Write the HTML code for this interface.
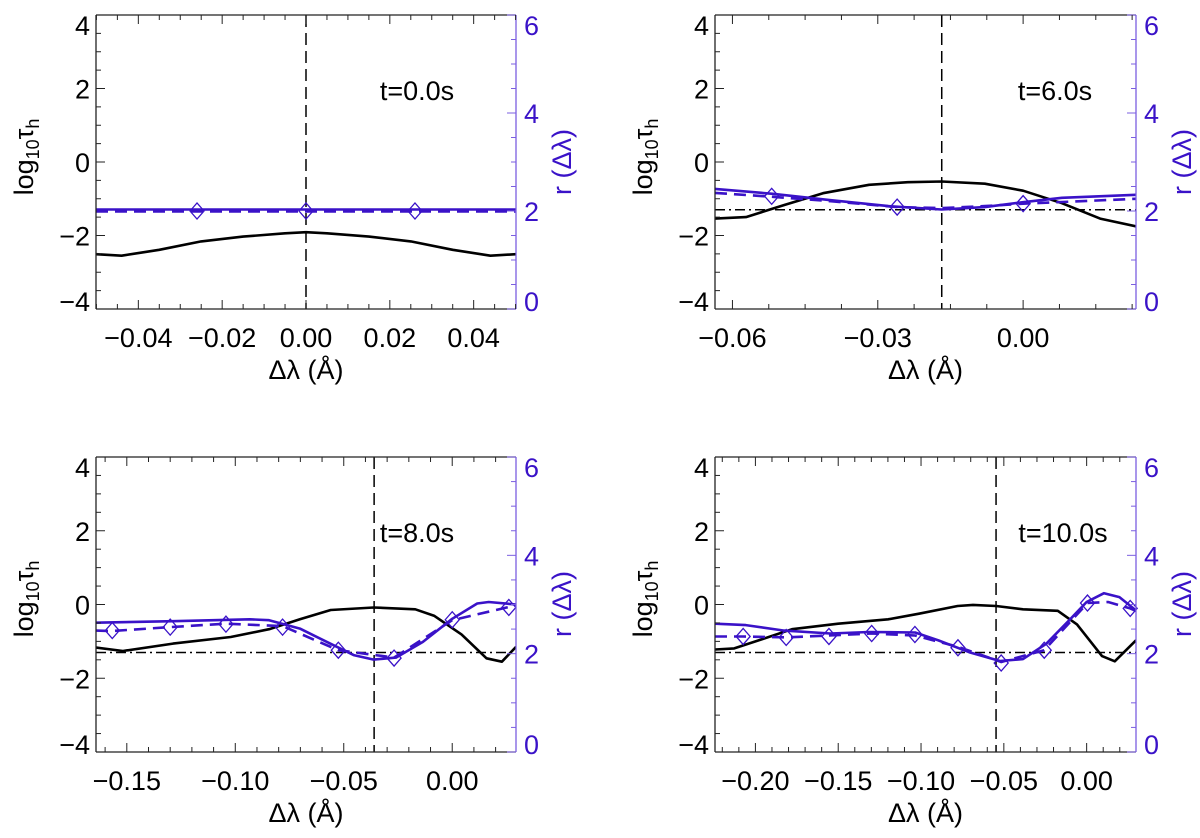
<!DOCTYPE html>
<html><head><meta charset="utf-8">
<style>
html,body{margin:0;padding:0;background:#fff;}
svg{display:block;font-family:"Liberation Sans",Arial,sans-serif;}
</style></head>
<body>
<svg id="fig" width="1200" height="838" viewBox="0 0 1200 838"></svg>
<script>
// ---------- data ----------
const p1_black_x=[-0.0501,-0.044,-0.035,-0.025,-0.015,-0.005,0,0.005,0.015,0.025,0.035,0.044,0.0501];
const p1_black_y=[-2.51,-2.55,-2.39,-2.16,-2.03,-1.94,-1.91,-1.94,-2.03,-2.16,-2.39,-2.55,-2.51];
const p1_rsol_x=[-0.0501,0.0501];
const p1_rsol_y=[2.03,2.03];
const p1_rdash_x=[-0.0501,0.0501];
const p1_rdash_y=[1.99,1.99];
const p1_diam_x=[-0.026,0,0.026];
const p1_diam_y=[2.0,2.0,2.0];

const p2_black_x=[-0.0636,-0.0572,-0.0493,-0.0413,-0.0318,-0.0238,-0.0168,-0.0079,0.0,0.008,0.0159,0.0233];
const p2_black_y=[-1.54,-1.50,-1.17,-0.85,-0.62,-0.55,-0.53,-0.59,-0.78,-1.12,-1.54,-1.75];
const p2_rsol_x=[-0.0636,-0.0517,-0.0397,-0.0278,-0.0168,-0.0079,0.0,0.008,0.0233];
const p2_rsol_y=[2.45,2.35,2.22,2.10,2.03,2.08,2.18,2.27,2.33];
const p2_rdash_x=[-0.0636,-0.0517,-0.0397,-0.026,-0.0168,-0.0079,0.0,0.0233];
const p2_rdash_y=[2.37,2.29,2.20,2.08,2.06,2.10,2.15,2.25];
const p2_diam_x=[-0.0519,-0.026,0.0];
const p2_diam_y=[2.30,2.08,2.15];

const p3_black_x=[-0.1642,-0.1518,-0.1287,-0.1021,-0.0844,-0.0702,-0.056,-0.0362,-0.017,-0.0082,0.0043,0.0158,0.0229,0.0294];
const p3_black_y=[-1.17,-1.26,-1.06,-0.88,-0.67,-0.40,-0.15,-0.08,-0.13,-0.31,-0.81,-1.46,-1.55,-1.15];
const p3_rsol_x=[-0.1642,-0.1287,-0.0933,-0.0844,-0.0702,-0.056,-0.0454,-0.0362,-0.0259,-0.0135,0.0,0.0115,0.0168,0.0294];
const p3_rsol_y=[2.63,2.66,2.70,2.68,2.51,2.20,1.97,1.88,1.92,2.24,2.71,3.02,3.05,3.0];
const p3_rdash_x=[-0.1642,-0.1567,-0.13,-0.1043,-0.0782,-0.0525,-0.0268,0.0,0.0261,0.0294];
const p3_rdash_y=[2.47,2.46,2.54,2.61,2.56,2.07,1.92,2.68,2.95,2.98];
const p3_diam_x=[-0.1567,-0.13,-0.1043,-0.0782,-0.0525,-0.0268,0.0,0.0261];
const p3_diam_y=[2.47,2.54,2.60,2.54,2.07,1.91,2.69,2.94];

const p4_black_x=[-0.2244,-0.2128,-0.1965,-0.1779,-0.15,-0.1198,-0.1012,-0.0779,-0.0686,-0.0547,-0.0384,-0.0174,-0.0058,0.0093,0.017,0.0298];
const p4_black_y=[-1.22,-1.19,-0.95,-0.67,-0.52,-0.40,-0.25,-0.04,-0.01,-0.04,-0.13,-0.17,-0.54,-1.40,-1.54,-0.97];
const p4_rsol_x=[-0.2244,-0.2058,-0.1826,-0.1547,-0.1314,-0.1035,-0.0895,-0.0709,-0.0523,-0.0384,-0.0244,-0.0105,0.0,0.0105,0.0198,0.0298];
const p4_rsol_y=[2.61,2.58,2.47,2.41,2.44,2.43,2.27,2.03,1.85,1.89,2.20,2.68,3.05,3.23,3.15,2.88];
const p4_rdash_x=[-0.2244,-0.2074,-0.1814,-0.1556,-0.1298,-0.1037,-0.0777,-0.0516,-0.0256,0.0005,0.0130,0.0263,0.0298];
const p4_rdash_y=[2.35,2.35,2.33,2.37,2.41,2.37,2.14,1.83,2.07,3.03,3.05,2.92,2.87];
const p4_diam_x=[-0.2074,-0.1814,-0.1556,-0.1298,-0.1037,-0.0777,-0.0516,-0.0256,0.0005,0.0263];
const p4_diam_y=[2.35,2.33,2.35,2.41,2.39,2.12,1.81,2.07,3.03,2.92];

const thresholds=[-1.3,-1.3,-1.3,-1.3];
const lineCenters=[0.0,-0.0168,-0.036,-0.0547];
const timeLabels=["t=0.0s","t=6.0s","t=8.0s","t=10.0s"];
const xTicks1=[-0.04,-0.02,0.00,0.02,0.04];
const xTickLabels1=["\u22120.04","\u22120.02","0.00","0.02","0.04"];
const xTicks2=[-0.06,-0.03,0.00];
const xTickLabels2=["\u22120.06","\u22120.03","0.00"];
const xTicks3=[-0.15,-0.10,-0.05,0.00];
const xTickLabels3=["\u22120.15","\u22120.10","\u22120.05","0.00"];
const xTicks4=[-0.20,-0.15,-0.10,-0.05,0.00];
const xTickLabels4=["\u22120.20","\u22120.15","\u22120.10","\u22120.05","0.00"];
const yTicks=[-4,-2,0,2,4];
const yTickLabels=["\u22124","\u22122","0","2","4"];
const rTicks=[0,2,4,6];
const rTickLabels=["0","2","4","6"];

// ---------- layout ----------
const PUR="#3a12c8", PURAX="#7b5fe0";
const FS=27;
const panels=[
 {x0:96,x1:516,y0:15,y1:309,xmin:-0.0501,xmax:0.0501,minor:0.005,xt:xTicks1,xl:xTickLabels1,
  bx:p1_black_x,by:p1_black_y,sx:p1_rsol_x,sy:p1_rsol_y,dx:p1_rdash_x,dy:p1_rdash_y,mx:p1_diam_x,my:p1_diam_y,tx:417},
 {x0:715,x1:1136,y0:15,y1:309,xmin:-0.0636,xmax:0.0233,minor:0.0075,xt:xTicks2,xl:xTickLabels2,
  bx:p2_black_x,by:p2_black_y,sx:p2_rsol_x,sy:p2_rsol_y,dx:p2_rdash_x,dy:p2_rdash_y,mx:p2_diam_x,my:p2_diam_y,tx:1055},
 {x0:96,x1:516,y0:457,y1:752,xmin:-0.1642,xmax:0.0294,minor:0.01,xt:xTicks3,xl:xTickLabels3,
  bx:p3_black_x,by:p3_black_y,sx:p3_rsol_x,sy:p3_rsol_y,dx:p3_rdash_x,dy:p3_rdash_y,mx:p3_diam_x,my:p3_diam_y,tx:417},
 {x0:715,x1:1136,y0:457,y1:752,xmin:-0.2244,xmax:0.0298,minor:0.01,xt:xTicks4,xl:xTickLabels4,
  bx:p4_black_x,by:p4_black_y,sx:p4_rsol_x,sy:p4_rsol_y,dx:p4_rdash_x,dy:p4_rdash_y,mx:p4_diam_x,my:p4_diam_y,tx:1063}
];
const NS="http://www.w3.org/2000/svg";
const svg=document.getElementById('fig');
function mk(tag,attrs,parent){const e=document.createElementNS(NS,tag);for(const k in attrs)e.setAttribute(k,attrs[k]);(parent||svg).appendChild(e);return e;}

panels.forEach((p,i)=>{
  const g=mk('g',{});
  
  
  const X=v=>p.x0+(v-p.xmin)/(p.xmax-p.xmin)*(p.x1-p.x0);
  const Y=v=>p.y1-(v+4)/8*(p.y1-p.y0);
  const R=v=>p.y1-v/6*(p.y1-p.y0);
  const path=(xs,ys,f)=>xs.map((x,j)=>(j?'L':'M')+X(x).toFixed(1)+' '+f(ys[j]).toFixed(1)).join(' ');
  const cp=mk('clipPath',{id:'c'+i},g);mk('rect',{x:p.x0,y:p.y0,width:p.x1-p.x0,height:p.y1-p.y0},cp);
  const pl=mk('g',{'clip-path':'url(#c'+i+')'},g);
  const th=mk('line',{x1:p.x0,x2:p.x1,y1:Y(thresholds[i]),y2:Y(thresholds[i]),stroke:'#000','stroke-width':1.5,'stroke-dasharray':'10 4 2 4'},pl);
  
  
  const vl=mk('line',{x1:X(lineCenters[i]),x2:X(lineCenters[i]),y1:p.y0,y2:p.y1,stroke:'#000','stroke-width':1.5,'stroke-dasharray':'12 6'},pl);
  
  
  const bl=mk('path',{d:path(p.bx,p.by,Y),fill:'none',stroke:'#000','stroke-width':2.6,'stroke-linejoin':'round'},pl);
  
  
  const rd=mk('path',{d:path(p.dx,p.dy,R),fill:'none',stroke:PUR,'stroke-width':2.6,'stroke-dasharray':'12 7'},pl);
  
  
  const rs=mk('path',{d:path(p.sx,p.sy,R),fill:'none',stroke:PUR,'stroke-width':2.6,'stroke-linejoin':'round'},pl);
  
  
  p.mx.forEach((x,j)=>{
    const cx=X(x),cy=R(p.my[j]);
    const d=mk('path',{d:`M${cx-7} ${cy} L${cx} ${cy-8} L${cx+7} ${cy} L${cx} ${cy+8} Z`,fill:'none',stroke:PUR,'stroke-width':1.3},g);
    
    
  });
  mk('line',{x1:p.x0,x2:p.x1,y1:p.y0,y2:p.y0,stroke:'#222','stroke-width':1.3},g);
  mk('line',{x1:p.x0,x2:p.x1,y1:p.y1,y2:p.y1,stroke:'#222','stroke-width':1.3},g);
  mk('line',{x1:p.x0,x2:p.x0,y1:p.y0,y2:p.y1,stroke:'#222','stroke-width':1.3},g);
  const ra=mk('line',{x1:p.x1,x2:p.x1,y1:p.y0,y2:p.y1,stroke:PURAX,'stroke-width':1.3},g);
  
  
  for(let v=-4;v<=4.001;v+=0.5){const y=Y(v);const L=(Math.abs(v%2)<0.01)?9:5;mk('line',{x1:p.x0,x2:p.x0+L,y1:y,y2:y,stroke:'#222','stroke-width':1},g);}
  for(let v=0;v<=6.001;v+=0.5){const y=R(v);const L=(Math.abs(v%2)<0.01)?9:5;mk('line',{x1:p.x1,x2:p.x1-L,y1:y,y2:y,stroke:PURAX,'stroke-width':1},g);}
  const start=Math.ceil(p.xmin/p.minor-1e-6);
  for(let k=start;k*p.minor<=p.xmax+1e-9;k++){const v=k*p.minor;const x=X(v);
    const major=p.xt.some(t=>Math.abs(t-v)<1e-6);const L=major?9:5;
    mk('line',{x1:x,x2:x,y1:p.y1,y2:p.y1-L,stroke:'#222','stroke-width':1},g);
    mk('line',{x1:x,x2:x,y1:p.y0,y2:p.y0+L,stroke:'#222','stroke-width':1},g);}
  p.xt.forEach((v,j)=>{const t=mk('text',{x:X(v),y:p.y1+38,'text-anchor':'middle','font-size':FS,fill:'#000'},g);t.textContent=p.xl[j];
    
    });
  yTicks.forEach((v,j)=>{let y=Y(v)+10;if(v===4)y+=10;if(v===-4)y-=8;
    const t=mk('text',{x:p.x0-6,y:y,'text-anchor':'end','font-size':FS,fill:'#000'},g);t.textContent=yTickLabels[j];
    
    });
  rTicks.forEach((v,j)=>{let y=R(v)+10;if(v===6)y+=10;if(v===0)y-=8;
    const t=mk('text',{x:p.x1+8,y:y,'text-anchor':'start','font-size':FS,fill:PUR},g);t.textContent=rTickLabels[j];
    
    });
  const xt=mk('text',{x:(p.x0+p.x1)/2,y:p.y1+70,'text-anchor':'middle','font-size':FS,fill:'#000'},g);
  xt.textContent='\u0394\u03bb (\u00c5)';
  
  
  const cy=p.y0+142;
  const yt=mk('text',{transform:`translate(${p.x0-63},${cy}) rotate(-90)`,'text-anchor':'middle','font-size':FS,fill:'#000'},g);
  yt.innerHTML='log<tspan font-size="18" dy="6">10</tspan><tspan dy="-6">\u03c4</tspan><tspan font-size="18" dy="6">h</tspan>';
  
  
  const rt=mk('text',{transform:`translate(${p.x1+55},${p.y0+147}) rotate(-90)`,'text-anchor':'middle','font-size':FS,fill:PUR},g);
  rt.textContent='r (\u0394\u03bb)';
  
  
  const tl=mk('text',{x:p.tx,y:p.y0+85,'text-anchor':'middle','font-size':FS,fill:'#000'},g);
  tl.textContent=timeLabels[i];
  
  
});
</script>
</body></html>
